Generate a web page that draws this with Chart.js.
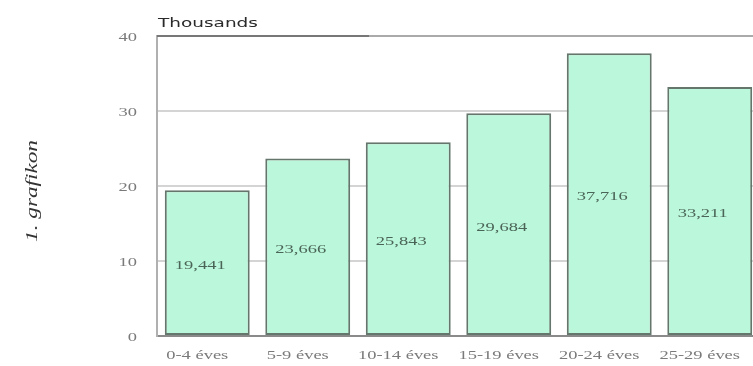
<!DOCTYPE html>
<html>
<head>
<meta charset="utf-8">
<script src="https://cdn.jsdelivr.net/npm/chart.js@4/dist/chart.umd.min.js"></script>
<style>
    html, body { margin: 0; padding: 0; background: #fff; overflow: hidden; }
    #wrap { width: 772px; height: 366px; }
</style>
</head>
<body>
<div id="wrap"><canvas id="korcsoportChart" width="772" height="366"></canvas></div>
<script>
// Népesség korcsoportonként (ezer fő)
const korcsoportok = ['0-4 éves', '5-9 éves', '10-14 éves', '15-19 éves', '20-24 éves', '25-29 éves'];
const letszam = [19.441, 23.666, 25.843, 29.684, 37.716, 33.211];
const cimkek = ['19,441', '23,666', '25,843', '29,684', '37,716', '33,211'];
const yTicks = [0, 10, 20, 30, 40];

const SERIF = '"Liberation Serif", "DejaVu Serif", serif';
const NYUJTAS = 1.42; // vízszintesen széthúzott betűk

// szöveg kiírása vízszintesen nyújtva
function nyujtottSzoveg(ctx, text, x, y, align) {
    ctx.save();
    ctx.translate(x, y);
    ctx.scale(NYUJTAS, 1);
    ctx.textAlign = align;
    ctx.fillText(text, 0, 0);
    ctx.restore();
}

// tengelyfeliratok a skálák pozíciói alapján
const tengelyFeliratok = {
    id: 'tengelyFeliratok',
    afterDraw(chart) {
        const ctx = chart.ctx;
        const xs = chart.scales.x;
        const ys = chart.scales.y;
        ctx.save();
        ctx.font = '13px ' + SERIF;
        ctx.fillStyle = '#7a7a7a';
        ctx.textBaseline = 'middle';
        xs.ticks.forEach((t, i) => {
            nyujtottSzoveg(ctx, korcsoportok[i], xs.getPixelForTick(i) - 10, 356, 'center');
        });
        ys.ticks.forEach(t => {
            nyujtottSzoveg(ctx, String(t.value), 137, ys.getPixelForValue(t.value) + 2, 'right');
        });
        ctx.restore();
    }
};

// Érték kiírása az oszlopok közepére
const oszlopCimkek = {
    id: 'oszlopCimkek',
    afterDatasetsDraw(chart) {
        const ctx = chart.ctx;
        const meta = chart.getDatasetMeta(0);
        ctx.save();
        ctx.font = '13px ' + SERIF;
        ctx.fillStyle = '#4a6457';
        ctx.textBaseline = 'middle';
        meta.data.forEach((bar, i) => {
            const mid = (bar.y + bar.base) / 2 + 3;
            nyujtottSzoveg(ctx, cimkek[i], bar.x - 7, mid, 'center');
        });
        ctx.restore();
    }
};

// "Thousands" felirat és az elforgatott grafikon-cím
const feliratok = {
    id: 'feliratok',
    afterDraw(chart) {
        const ctx = chart.ctx;
        const area = chart.chartArea;
        ctx.save();
        ctx.font = '13px "DejaVu Sans", Verdana, sans-serif';
        ctx.fillStyle = '#2a2a2a';
        ctx.textBaseline = 'alphabetic';
        nyujtottSzoveg(ctx, 'Thousands', area.left + 1, 27, 'left');

        // felső vonal sötétebb szakasza
        ctx.strokeStyle = '#777';
        ctx.lineWidth = 2;
        ctx.beginPath();
        ctx.moveTo(area.left, area.top);
        ctx.lineTo(369, area.top);
        ctx.stroke();

        ctx.translate(33, 191);
        ctx.rotate(-Math.PI / 2);
        ctx.scale(1.45, 1);
        ctx.font = 'italic 16px ' + SERIF;
        ctx.fillStyle = '#333';
        ctx.textAlign = 'center';
        ctx.textBaseline = 'middle';
        ctx.fillText('1. grafikon', 0, 0);
        ctx.restore();
    }
};

const ctx = document.getElementById('korcsoportChart').getContext('2d');
new Chart(ctx, {
    type: 'bar',
    data: {
        labels: korcsoportok,
        datasets: [{
            data: letszam,
            backgroundColor: '#bbf7da',
            borderColor: '#65766d',
            borderWidth: 2,
            borderSkipped: false,
            barPercentage: 1,
            categoryPercentage: 0.845
        }]
    },
    options: {
        responsive: false,
        animation: false,
        layout: { padding: { top: 36, right: 12, left: 0, bottom: 0 } },
        plugins: {
            legend: { display: false },
            tooltip: { enabled: false }
        },
        scales: {
            x: {
                grid: { display: false, drawTicks: false },
                border: { color: '#8a8a8a', width: 2 },
                ticks: { display: false },
                afterFit(scale) { scale.height = 30; }
            },
            y: {
                min: 0,
                max: 40,
                afterBuildTicks(scale) { scale.ticks = yTicks.map(v => ({ value: v })); },
                grid: {
                    drawTicks: false,
                    color: c => (c.tick && c.tick.value === 40) ? '#aaaaaa' : '#d4d4d4',
                    lineWidth: 2
                },
                border: { color: '#b0b0b0', width: 2 },
                ticks: { display: false },
                afterFit(scale) { scale.width = 157; }
            }
        }
    },
    plugins: [oszlopCimkek, tengelyFeliratok, feliratok]
});
</script>
</body>
</html>
